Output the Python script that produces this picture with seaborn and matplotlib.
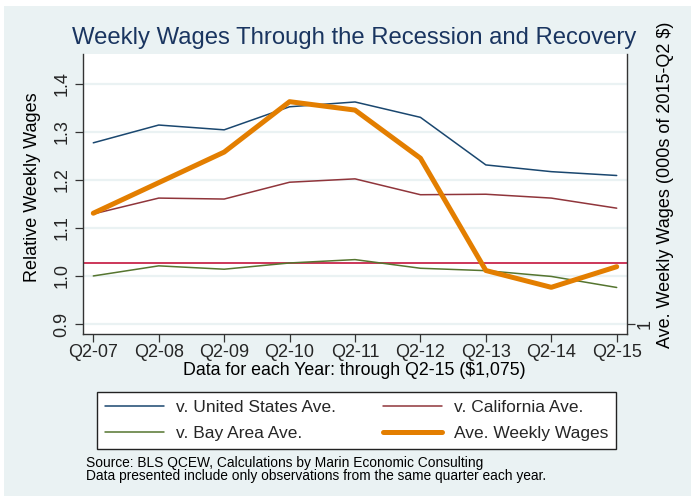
import numpy as np
import pandas as pd
import matplotlib
matplotlib.use("Agg")
import matplotlib.pyplot as plt
import seaborn as sns

quarters = ["Q2-07", "Q2-08", "Q2-09", "Q2-10", "Q2-11", "Q2-12", "Q2-13", "Q2-14", "Q2-15"]
us_rel = [1.277, 1.314, 1.304, 1.352, 1.362, 1.330, 1.231, 1.217, 1.209]
ca_rel = [1.129, 1.162, 1.160, 1.195, 1.202, 1.169, 1.170, 1.162, 1.141]
bay_rel = [1.000, 1.021, 1.014, 1.027, 1.034, 1.016, 1.011, 0.999, 0.976]
ave_wage = [1.145, 1.185, 1.225, 1.291, 1.280, 1.217, 1.070, 1.048, 1.075]
ref_level = 1.027

left_ticks = [0.9, 1.0, 1.1, 1.2, 1.3, 1.4]
left_ticklabels = ["0.9", "1.0", "1.1", "1.2", "1.3", "1.4"]
right_ticks = [1.0]
right_ticklabels = ["1"]

C_NAVY = "#1A476F"
C_MAROON = "#90353B"
C_GREEN = "#55752F"
C_ORANGE = "#E37E00"
C_CRAN = "#C8264C"
C_BG = "#EAF2F3"
C_TITLE = "#1A3560"

sns.set_style("white")
plt.rcParams["font.family"] = ["Liberation Sans", "DejaVu Sans"]

W, H = 699, 499
fig = plt.figure(figsize=(W / 100, H / 100), dpi=100)
fig.patch.set_facecolor("white")
fig.patches.append(plt.Rectangle((4 / W, 1 - 496 / H), (691 - 4) / W, (496 - 6) / H,
                                 transform=fig.transFigure, facecolor=C_BG,
                                 edgecolor="none", zorder=-10))

ax_l, ax_r, ax_t, ax_b = 82.7, 627.3, 54, 334
ax = fig.add_axes([ax_l / W, 1 - ax_b / H, (ax_r - ax_l) / W, (ax_b - ax_t) / H])
ax.set_facecolor("white")

df = pd.DataFrame({"x": np.arange(len(quarters)), "us": us_rel, "ca": ca_rel,
                   "bay": bay_rel, "ave": ave_wage})

for yv in left_ticks:
    ax.axhline(yv, color=C_BG, lw=1.6, zorder=0.5)
ax.axhline(ref_level, color=C_CRAN, lw=1.3, zorder=1)

sns.lineplot(data=df, x="x", y="us", ax=ax, color=C_NAVY, lw=1.1, label="v. United States Ave.", zorder=2)
sns.lineplot(data=df, x="x", y="bay", ax=ax, color=C_GREEN, lw=1.1, label="v. Bay Area Ave.", zorder=2)
sns.lineplot(data=df, x="x", y="ca", ax=ax, color=C_MAROON, lw=1.1, label="v. California Ave.", zorder=2)

ax2 = ax.twinx()
ax2.patch.set_visible(False)
sns.lineplot(data=df, x="x", y="ave", ax=ax2, color=C_ORANGE, lw=3.6, label="Ave. Weekly Wages", zorder=3)

ax.set_xlim(-0.162, len(quarters) - 1 + 0.162)
ax.set_ylim(0.8792, 1.4618)
ax2.set_ylim(0.9869, 1.3534)

ax.set_xticks(np.arange(len(quarters)))
ax.set_xticklabels(quarters)
ax.set_yticks(left_ticks)
ax.set_yticklabels(left_ticklabels, rotation=90, va="center")
ax2.set_yticks(right_ticks)
ax2.set_yticklabels(right_ticklabels, rotation=90, va="center")

for a in (ax, ax2):
    a.spines["top"].set_visible(False)
    for s in ("left", "bottom", "right"):
        a.spines[s].set_color("#333333")
        a.spines[s].set_linewidth(1.0)
ax.spines["right"].set_visible(False)
ax2.spines["left"].set_visible(False)
ax2.spines["bottom"].set_visible(False)

ax.tick_params(axis="y", which="major", direction="out", length=6, width=0.9,
               color="#333333", labelsize=13, pad=3, left=True)
ax.tick_params(axis="x", which="major", direction="out", length=6, width=0.9,
               color="#333333", labelsize=13, pad=1.5, bottom=True)
ax2.tick_params(axis="y", direction="out", length=6, width=0.9, color="#333333",
                labelsize=13, pad=1, right=True)
ax.set_xlabel("")
ax.set_ylabel("")
ax2.set_ylabel("")
ax.get_legend().remove()
ax2.get_legend().remove()

fig.text(354.5 / W, 1 - 38 / H, "Weekly Wages Through the Recession and Recovery",
         ha="center", va="center", fontsize=17.2, color=C_TITLE)
fig.text(33 / W, 1 - 187 / H, "Relative Weekly Wages", rotation=90,
         ha="center", va="center", fontsize=13, color="black")
fig.text(665 / W, 1 - 185 / H, "Ave. Weekly Wages (000s of 2015-Q2 $)", rotation=90,
         ha="center", va="center", fontsize=13, color="black")
fig.text(354.5 / W, 1 - 362 / H, "Data for each Year: through Q2-15 ($1,075)",
         ha="center", va="top", fontsize=12.8, color="black")

h1, l1 = ax.get_legend_handles_labels()
h2, l2 = ax2.get_legend_handles_labels()
handles = h1 + h2
labels = l1 + l2
leg = fig.legend(handles, labels,
                 loc="upper left",
                 bbox_to_anchor=(97 / W, 1 - 392 / H, (616 - 97) / W, 0),
                 mode="expand", ncol=2, fontsize=12.5, frameon=True, fancybox=False,
                 handlelength=3.4, handletextpad=0.7, borderaxespad=0, borderpad=0.45,
                 labelspacing=0.62, columnspacing=1.0)
leg.get_frame().set_edgecolor("#222222")
leg.get_frame().set_linewidth(1.0)
leg.get_frame().set_facecolor("white")
leg.get_frame().set_alpha(1)

fig.text(86 / W, 1 - 463 / H, "Source: BLS QCEW, Calculations by Marin Economic Consulting",
         ha="left", va="center", fontsize=9.9, color="black")
fig.text(86 / W, 1 - 476 / H, "Data presented include only observations from the same quarter each year.",
         ha="left", va="center", fontsize=9.9, color="black")

fig.savefig("out.png", dpi=100, facecolor=fig.get_facecolor())
